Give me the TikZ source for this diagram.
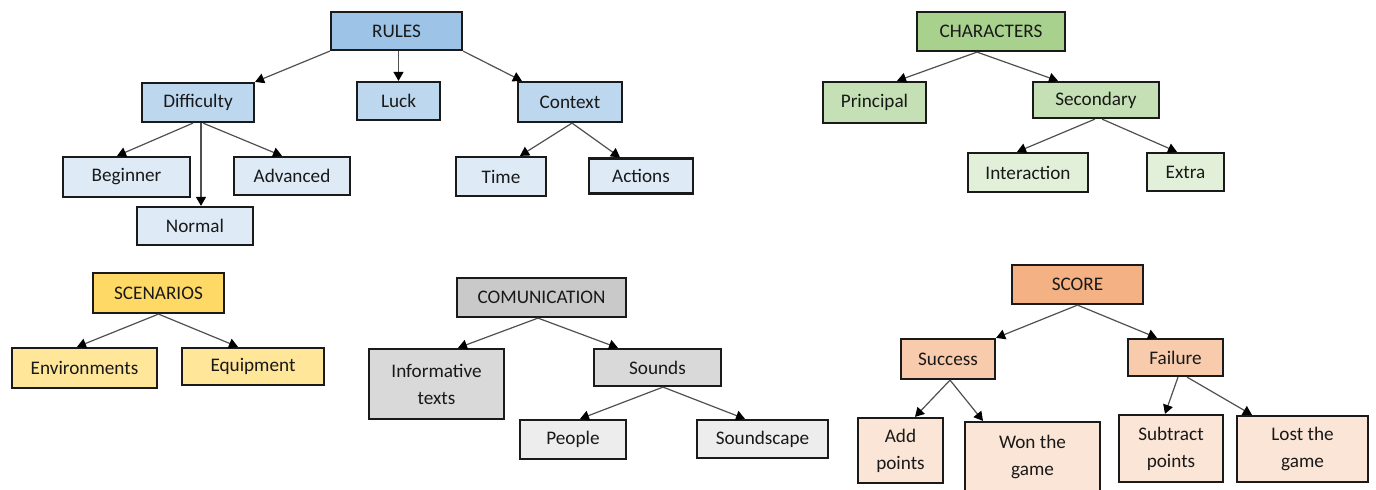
\documentclass[tikz,border=0pt]{standalone}
\usepackage{fontspec}
\setmainfont{Carlito}
\usepackage{xcolor}
\usepackage{tikz}
\usetikzlibrary{calc,arrows.meta}
\definecolor{edge}{HTML}{1A1A1A}
\definecolor{link}{HTML}{505050}
\definecolor{blueA}{HTML}{9DC3E6}
\definecolor{blueB}{HTML}{BDD7EE}
\definecolor{blueC}{HTML}{DEEBF7}
\definecolor{greenA}{HTML}{A9D18E}
\definecolor{greenB}{HTML}{C5E0B4}
\definecolor{greenC}{HTML}{E2F0D9}
\definecolor{goldA}{HTML}{FFD966}
\definecolor{goldB}{HTML}{FFE699}
\definecolor{greyA}{HTML}{C9C9C9}
\definecolor{greyB}{HTML}{D9D9D9}
\definecolor{greyC}{HTML}{EDEDED}
\definecolor{peachA}{HTML}{F4B183}
\definecolor{peachB}{HTML}{F8CBAD}
\definecolor{peachC}{HTML}{FBE5D6}
\tikzset{
  box/.style={draw=edge, line width=1.1pt, rectangle, inner sep=0pt, align=center,
    font=\fontsize{9.6}{13.5}\selectfont, text=black!90},
  sz/.style 2 args={minimum width=#1*0.5pt, minimum height=#2*0.5pt},
  arr/.style={draw=link, line width=0.6pt, -{Triangle[length=4.5pt,width=5pt,color=black]}},
}

\begin{document}
\begin{tikzpicture}[x=0.5pt,y=-0.5pt]
  \clip (0,0) rectangle (1376,490);
  \fill[white] (0,0) rectangle (1376,490);
  % rules tree
  \node[box,fill=blueA,sz={131}{38}] (rules) at (396.5,31) {RULES};
  \node[box,fill=blueB,sz={112}{39}] (diff) at (198,102.5) {Difficulty};
  \node[box,fill=blueB,sz={83}{38}] (luck) at (398.5,101) {Luck};
  \node[box,fill=blueB,sz={104}{40}] (ctx) at (570,102) {Context};
  \node[box,fill=blueC,sz={127}{40}] (beg) at (126.5,177) {Beginner};
  \node[box,fill=blueC,sz={116}{38}] (norm) at (195,226) {Normal};
  \node[box,fill=blueC,sz={116}{38}] (adv) at (292,176) {Advanced};
  \node[box,fill=blueC,sz={90}{39}] (time) at (501,176.5) {Time};
  \node[box,fill=blueC,sz={104}{35}] (act) at (641,176) {Actions};
  \coordinate (dn) at ($(diff.south)+(3,0)$);
  \draw[arr] (rules.south west) -- (diff.north east);
  \draw[arr] (luck.north |- rules.south) -- (luck.north);
  \draw[arr] (rules.south east) -- ($(ctx.north west)+(5,0)$);
  \draw[arr] ($(diff.south)+(-5,0)$) -- ($(beg.north)+(-9.5,0)$);
  \draw[arr] (dn) -- (dn |- norm.north);
  \draw[arr] ($(diff.south)+(5,0)$) -- ($(adv.north)+(-10,0)$);
  \draw[arr] ($(ctx.south)+(2,0)$) -- ($(time.north)+(19,0)$);
  \draw[arr] ($(ctx.south)+(2,0)$) -- ($(act.north)+(-21,0)$);
  % characters tree
  \node[box,fill=greenA,sz={148}{39}] (chars) at (991,31.5) {CHARACTERS};
  \node[box,fill=greenB,sz={103}{41}] (princ) at (874.5,102.5) {Principal};
  \node[box,fill=greenB,sz={126}{36}] (sec) at (1096,100) {Secondary};
  \node[box,fill=greenC,sz={120}{39}] (inter) at (1028,172.5) {Interaction};
  \node[box,fill=greenC,sz={77}{38}] (extra) at (1185.5,172) {Extra};
  \draw[arr] ($(chars.south)+(-14,0)$) -- ($(princ.north)+(22.5,0)$);
  \draw[arr] ($(chars.south)+(-14,0)$) -- ($(sec.north)+(-38,0)$);
  \draw[arr] ($(sec.south)+(-1,0)$) -- ($(inter.north)+(-11,0)$);
  \draw[arr] ($(sec.south)+(6,0)$) -- ($(extra.north)+(-8.5,0)$);
  % scenarios tree
  \node[box,fill=goldA,sz={131}{40}] (scen) at (158.5,293) {SCENARIOS};
  \node[box,fill=goldB,sz={145}{40}] (env) at (84.5,368) {Environments};
  \node[box,fill=goldB,sz={142}{37}] (equip) at (253,366.5) {Equipment};
  \draw[arr] (scen.south) -- ($(env.north)+(-7.5,0)$);
  \draw[arr] (scen.south) -- ($(equip.north)+(-15,0)$);
  % communication tree
  \node[box,fill=greyA,sz={169}{39}] (com) at (541.5,297.5) {COMUNICATION};
  \node[box,fill=greyB,sz={135}{70}] (info) at (436.5,384) {Informative\\texts};
  \node[box,fill=greyB,sz={127}{37}] (snd) at (657.5,367.5) {Sounds};
  \node[box,fill=greyC,sz={106}{39}] (ppl) at (573,439.5) {People};
  \node[box,fill=greyC,sz={131}{38}] (scape) at (762.5,439) {Soundscape};
  \draw[arr] ($(com.south)+(-3.5,0)$) -- ($(info.north)+(21.5,0)$);
  \draw[arr] ($(com.south)+(-3.5,0)$) -- ($(snd.north)+(-39.5,0)$);
  \draw[arr] ($(snd.south)+(5.5,0)$) -- ($(ppl.north)+(7,0)$);
  \draw[arr] ($(snd.south)+(5.5,0)$) -- ($(scape.north)+(-17.5,0)$);
  % score tree
  \node[box,fill=peachA,sz={131}{39}] (score) at (1077.5,284.5) {SCORE};
  \node[box,fill=peachB,sz={94}{40}] (succ) at (948,359) {Success};
  \node[box,fill=peachB,sz={95}{37}] (fail) at (1175.5,357.5) {Failure};
  \node[box,fill=peachC,sz={85}{65}] (add) at (900.5,450.5) {Add\\points};
  \node[box,fill=peachC,sz={135}{70}] (won) at (1032.5,457) {Won the\\game};
  \node[box,fill=peachC,sz={104}{67}] (sub) at (1171,448.5) {Subtract\\points};
  \node[box,fill=peachC,sz={131}{66}] (lost) at (1302.5,449) {Lost the\\game};
  \draw[arr] (score.south) -- (succ.north east);
  \draw[arr] (score.south) -- ($(fail.north)+(-18.5,0)$);
  \draw[arr] ($(succ.south)+(2,0)$) -- ($(add.north)+(14.5,0)$);
  \draw[arr] ($(succ.south)+(2,0)$) -- ($(won.north)+(-49.5,0)$);
  \draw[arr] ($(fail.south)+(2.5,0)$) -- ($(sub.north)+(-6,0)$);
  \draw[arr] ($(fail.south)+(11.5,0)$) -- ($(lost.north)+(-50.5,0)$);
\end{tikzpicture}
\end{document}
